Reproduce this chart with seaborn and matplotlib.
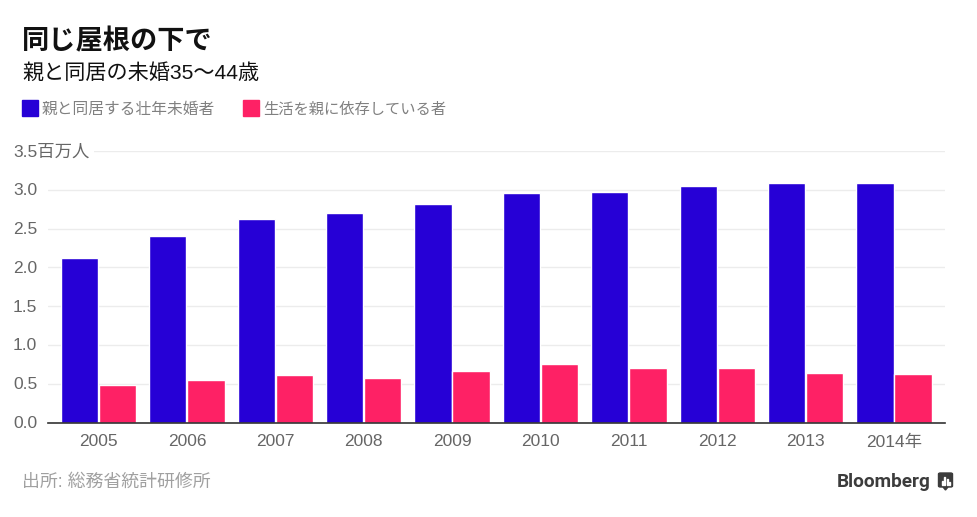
import pandas as pd
import seaborn as sns
import matplotlib
matplotlib.use('Agg')
import matplotlib.pyplot as plt
from matplotlib.patches import FancyBboxPatch, Polygon, Rectangle

years = ['2005', '2006', '2007', '2008', '2009', '2010', '2011', '2012', '2013', '2014年']
living_with_parents = [2.12, 2.41, 2.62, 2.70, 2.82, 2.96, 2.97, 3.05, 3.09, 3.09]
dependent_on_parents = [0.48, 0.55, 0.61, 0.57, 0.67, 0.75, 0.70, 0.70, 0.64, 0.63]
series_names = ['親と同居する壮年未婚者', '生活を親に依存している者']
y_ticks = [0, 0.5, 1.0, 1.5, 2.0, 2.5, 3.0, 3.5]
y_labels = ['0.0', '0.5', '1.0', '1.5', '2.0', '2.5', '3.0', '3.5百万人']

W, H = 977, 517
FONTS = ['Liberation Sans', 'Noto Sans CJK JP', 'DejaVu Sans']
BLUE = '#2600d6'
PINK = '#fe2165'
LOGO = '#3c3c3c'

sns.set_theme(style='white')
plt.rcParams['font.family'] = FONTS

df = pd.DataFrame({
    'year': years * 2,
    'value': living_with_parents + dependent_on_parents,
    'series': [series_names[0]] * 10 + [series_names[1]] * 10,
})

fig = plt.figure(figsize=(W / 100, H / 100), dpi=100)
ax = fig.add_axes([48 / W, 1 - 422.5 / H, (945 - 48) / W, (422.5 - 151) / H])

sns.barplot(data=df, x='year', y='value', hue='series', order=years, hue_order=series_names,
            palette=[BLUE, PINK], width=0.86, gap=0.02, saturation=1, ax=ax,
            legend=False, zorder=3)

ax.set_xlim(-0.571, 9.576)
ax.set_ylim(0, 3.5)
ax.set_xlabel('')
ax.set_ylabel('')
ax.set_yticks(y_ticks)
ax.set_yticklabels([])
ax.grid(axis='y', color='#ececec', lw=1)
ax.set_axisbelow(True)
sns.despine(ax=ax, left=True)
ax.spines['bottom'].set_color('#333333')
ax.spines['bottom'].set_linewidth(1.2)
ax.spines['bottom'].set_zorder(5)
ax.tick_params(axis='y', length=0)
ax.tick_params(axis='x', length=4, color='#333333', width=1, labelsize=12.5,
               labelcolor='#666666', pad=4.5)

# y labels sit left aligned, the white box breaks the top gridline behind the unit
for t, lab in zip(y_ticks, y_labels):
    ax.annotate(lab, xy=(13 / W, t), xycoords=('figure fraction', 'data'), xytext=(0, -0.7),
                textcoords='offset points', ha='left', va='center',
                fontsize=12.5, color='#666666', annotation_clip=False, zorder=6,
                bbox=dict(facecolor='white', edgecolor='none', pad=3))

fig.text(22 / W, 1 - 42 / H, '同じ屋根の下で', fontsize=19.6, fontweight='bold', color='#111111',
         va='center', ha='left')
fig.text(22 / W, 1 - 73.5 / H, '親と同居の未婚35～44歳', fontsize=15.2, color='#111111', va='center', ha='left')

fig.add_artist(Rectangle((22 / W, 1 - 116 / H), 16 / W, 16 / H, transform=fig.transFigure, color=BLUE))
fig.text(42 / W, 1 - 109.5 / H, series_names[0], fontsize=11.3, color='#808080', va='center', ha='left')
fig.add_artist(Rectangle((243 / W, 1 - 116 / H), 16 / W, 16 / H, transform=fig.transFigure, color=PINK))
fig.text(263 / W, 1 - 109.5 / H, series_names[1], fontsize=11, color='#808080', va='center', ha='left')

fig.text(22 / W, 1 - 482.5 / H, '出所: 総務省統計研修所', fontsize=12.9, color='#a0a0a0', va='center', ha='left')
fig.text(931 / W, 1 - 482 / H, 'Bloomberg', fontsize=13.7, fontweight='bold', color=LOGO,
         family=['Roboto', 'DejaVu Sans'], va='center', ha='right')

# small logo mark: speech bubble with white bars
fig.add_artist(FancyBboxPatch((938.5 / W, 1 - 487 / H), 14 / W, 14 / H,
                              boxstyle='round,pad=0,rounding_size=0.002',
                              transform=fig.transFigure, color=LOGO))
fig.add_artist(Polygon([(943 / W, 1 - 487 / H), (948 / W, 1 - 487 / H), (945.5 / W, 1 - 490 / H)],
                       transform=fig.transFigure, color=LOGO))
for bx, top in zip([941.5, 944, 946.5, 949], [481, 477, 479, 482]):
    fig.add_artist(Rectangle((bx / W, 1 - 485 / H), 1.4 / W, (485 - top) / H,
                             transform=fig.transFigure, color='white'))

fig.savefig('out.png', dpi=100)
